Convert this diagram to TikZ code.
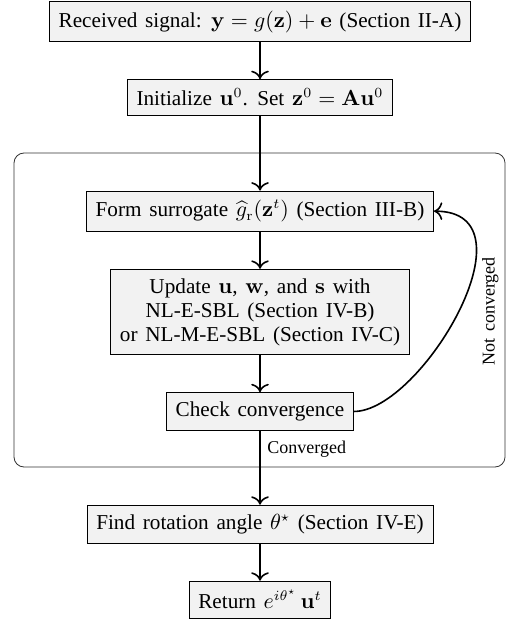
\documentclass[tikz,border=0pt]{standalone}
\usepackage{amsmath}
\usepackage{amssymb}
\usepackage[no-math]{fontspec}
\setmainfont[WordSpace=1.45]{Liberation Serif}
\usetikzlibrary{positioning}
\usetikzlibrary{arrows.meta}

\begin{document}
\begin{tikzpicture}[->,>={To[scale=1.25]},auto,node distance=18.5pt,
	thick,step box/.style={rectangle,draw,thin,fill=gray!10,inner sep=4.6pt,align=center,
	font=\fontsize{10.6}{12}\selectfont}]
	
	\useasboundingbox (0,0) rectangle (253pt,-312pt);
	
	\node[step box, anchor=north] (recv) at (130pt,-0.5pt) {Received signal: $\mathbf{y}=g(\mathbf{z})+\mathbf{e}$ (Section II-A)};
	\node[step box] (init) [below=of recv] {Initialize $\mathbf{u}^0$. Set $\mathbf{z}^0=\mathbf{A}\mathbf{u}^0$};
	\node[step box] (surr) [below=37.5pt of init] {Form surrogate $\widehat{g}_{\mathrm{r}}(\mathbf{z}^t)$ (Section III-B)};
	\node[step box] (upd) [below=of surr] {Update $\mathbf{u}$, $\mathbf{w}$, and $\mathbf{s}$ with\\ NL-E-SBL (Section IV-B)\\ or NL-M-E-SBL (Section IV-C)};
	\node[step box] (check) [below=of upd] {Check convergence};
	\node[step box] (rot) [below=37pt of check] {Find rotation angle $\theta^\star$ (Section IV-E)};
	\node[step box] (ret) [below=of rot] {Return $e^{i\theta^\star}\,\mathbf{u}^t$};
	
	% loop frame
	\draw[-,thin,draw=black!80,rounded corners=5pt] (7pt,-76.5pt) rectangle (252.5pt,-233.5pt);
	
	\path[every node/.style={font=\small}]
	(recv) edge (init)
	(init) edge (surr)
	(surr) edge (upd)
	(upd) edge (check)
	(check) edge node [pos=0.25, right] {Converged} (rot)
	(check) edge [out=0, in=0, out looseness=0.8, in looseness=1.25]
		node [pos=0.5, xshift=8pt, rotate=90, anchor=north] {Not converged} (surr)
	(rot) edge (ret);
\end{tikzpicture}
\end{document}
